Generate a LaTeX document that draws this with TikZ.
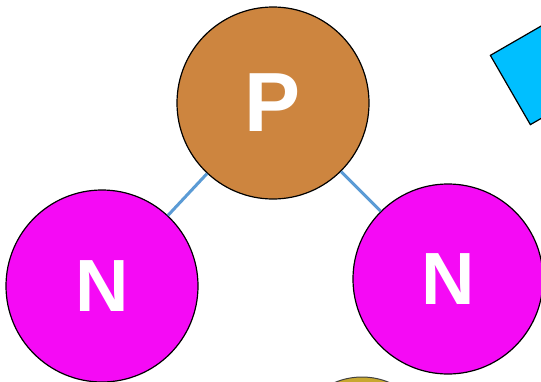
\documentclass[tikz,border=0pt]{standalone}
\usepackage{fontspec}
\setmainfont{Liberation Sans}
\begin{document}
\begin{tikzpicture}[x=1pt,y=-1pt,
  ball/.style={circle,draw=black,line width=1.2pt,minimum size=192pt,inner sep=0pt,text=white,font=\bfseries},
  bond/.style={draw=bondblue,line width=3pt}]
\definecolor{peru}{HTML}{CD853F}
\definecolor{mag}{HTML}{F50AF5}
\definecolor{bondblue}{HTML}{5B9BD5}
\definecolor{cyanbox}{HTML}{00BFFF}
\definecolor{olive}{HTML}{C8A830}
\useasboundingbox (0,0) rectangle (541,381);
\fill[white] (0,0) rectangle (541,381);
% partial circle at bottom
\node[circle,draw=black!75,line width=1pt,fill=olive,minimum size=140pt,inner sep=0pt] (y) at (362,447) {};
\node[ball,fill=peru,font=\bfseries\fontsize{84}{84}\selectfont] (p) at (273,103) {P};
\node[ball,fill=mag,font=\bfseries\fontsize{74}{74}\selectfont] (n1) at (102,286) {N};
\node[ball,fill=mag,font=\bfseries\fontsize{74}{74}\selectfont,minimum size=190pt] (n2) at (448,279) {N};
\draw[bond] (p) -- (n1);
\draw[bond] (p) -- (n2);
\node[draw=black,line width=1.2pt,fill=cyanbox,minimum size=80pt,inner sep=0pt,rotate=30] (sq) at (545,70) {};
\end{tikzpicture}
\end{document}
